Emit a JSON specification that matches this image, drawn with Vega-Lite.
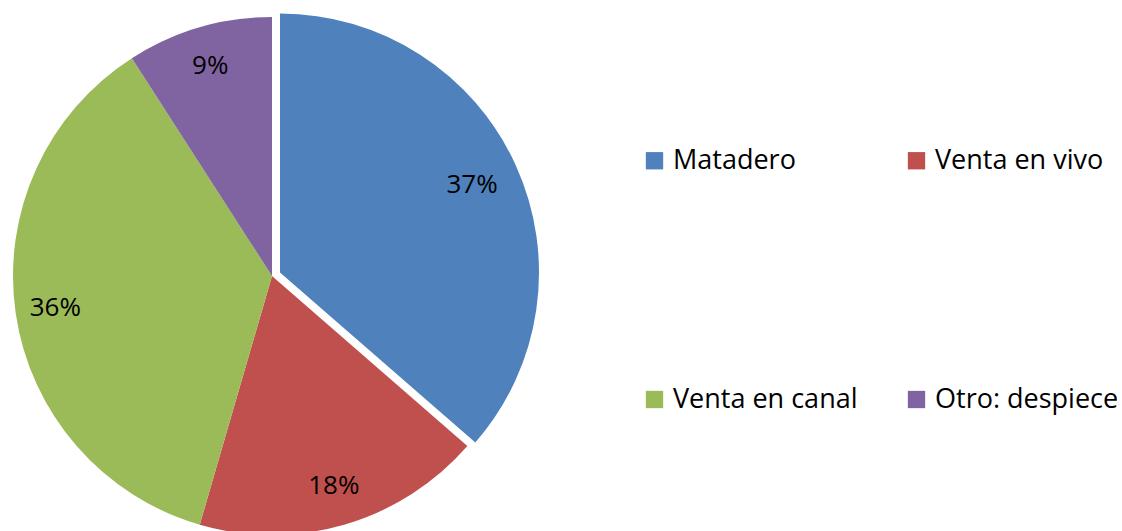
{
  "$schema": "https://vega.github.io/schema/vega-lite/v6.json",
  "width": 544,
  "height": 552,
  "padding": 0,
  "background": "white",
  "config": {"view": {"stroke": null}, "font": "Open Sans"},
  "data": {"values": [
    {"categoria": "Matadero", "valor": 36.4, "etiqueta": "37%", "orden": 1},
    {"categoria": "Venta en vivo", "valor": 18.1, "etiqueta": "18%", "orden": 2},
    {"categoria": "Venta en canal", "valor": 36.4, "etiqueta": "36%", "orden": 3},
    {"categoria": "Otro: despiece", "valor": 9.1, "etiqueta": "9%", "orden": 4}
  ]},
  "encoding": {
    "theta": {"field": "valor", "type": "quantitative", "stack": true},
    "order": {"field": "orden", "type": "quantitative"},
    "color": {
      "field": "categoria", "type": "nominal",
      "sort": ["Matadero", "Venta en vivo", "Venta en canal", "Otro: despiece"],
      "scale": {"domain": ["Matadero", "Venta en vivo", "Venta en canal", "Otro: despiece"], "range": ["#4F81BD", "#C0504D", "#9BBB59", "#8064A2"]},
      "legend": {
        "title": null, "orient": "none", "legendX": 641, "legendY": 147,
        "direction": "horizontal",
        "columns": 2, "symbolType": "square", "symbolSize": 300, "symbolOpacity": 1,
        "symbolStrokeWidth": 0,
        "labelFont": "Open Sans", "labelFontSize": 27, "labelColor": "#000000",
        "labelOffset": 5, "labelLimit": 400,
        "rowPadding": 211, "columnPadding": 45, "padding": 0
      }
    }
  },
  "layer": [
    {
      "mark": {"type": "arc", "outerRadius": 259},
      "encoding": {"opacity": {"condition": {"test": "datum.categoria === 'Matadero'", "value": 0}, "value": 1}}
    },
    {
      "mark": {"type": "arc", "outerRadius": 259, "xOffset": 8, "yOffset": -3.5},
      "encoding": {"opacity": {"condition": {"test": "datum.categoria === 'Matadero'", "value": 1}, "value": 0}}
    },
    {
      "mark": {"type": "text", "radius": 219, "fontSize": 26, "font": "Open Sans", "fill": "#000000", "align": "center", "baseline": "middle"},
      "encoding": {
        "text": {"field": "etiqueta", "type": "nominal"},
        "color": {"value": "#000000"},
        "opacity": {"condition": {"test": "datum.categoria === 'Matadero'", "value": 0}, "value": 1}
      }
    },
    {
      "mark": {"type": "text", "radius": 211, "fontSize": 26, "font": "Open Sans", "fill": "#000000", "align": "center", "baseline": "middle", "xOffset": 8, "yOffset": -3.5},
      "encoding": {
        "text": {"field": "etiqueta", "type": "nominal"},
        "color": {"value": "#000000"},
        "opacity": {"condition": {"test": "datum.categoria === 'Matadero'", "value": 1}, "value": 0}
      }
    }
  ]
}
